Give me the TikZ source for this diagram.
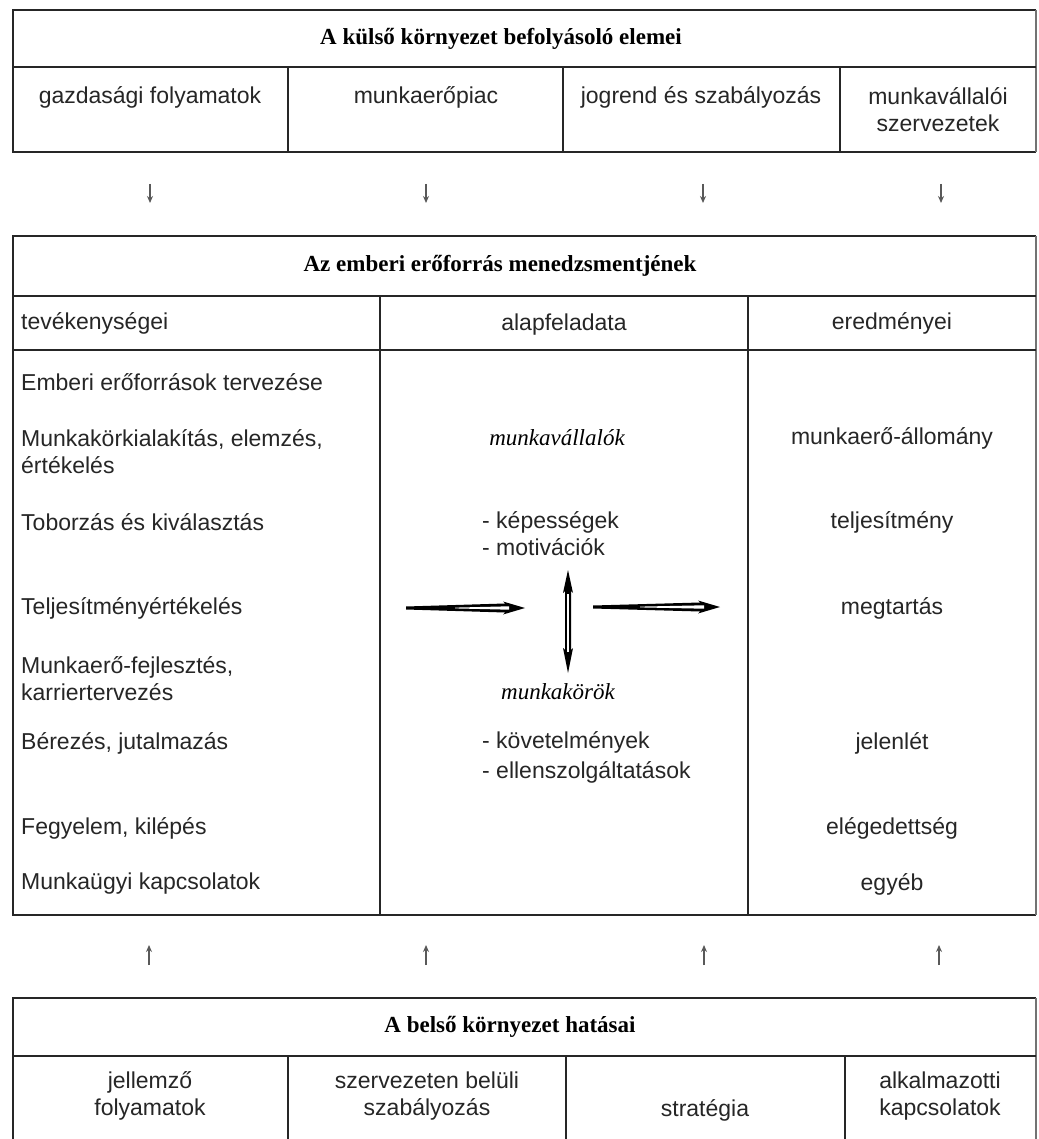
\documentclass[tikz,border=0pt]{standalone}
\usepackage{fontspec}
\setmainfont{Liberation Serif}
\setsansfont{Liberation Sans}
\usetikzlibrary{arrows.meta}
\begin{document}
\begin{tikzpicture}[x=1pt,y=-1pt,
  outer/.style={line width=2.6pt, black!85},
  inner/.style={line width=2pt, black!85},
  ttl/.style={font=\fontsize{23}{27}\selectfont\bfseries\rmfamily, anchor=center, inner sep=0pt},
  txt/.style={font=\fontsize{23}{27}\selectfont\sffamily, text=black!85, align=center, anchor=center, inner sep=0pt},
  ltxt/.style={txt, align=left, anchor=west},
  itx/.style={font=\fontsize{23}{27}\selectfont\itshape\rmfamily, anchor=center, inner sep=0pt},
  smallarr/.style={-{Stealth[length=7pt,width=6pt]}, line width=1.3pt, black!65},
]
\useasboundingbox (0,0) rectangle (1038,1139);
\fill[white] (0,0) rectangle (1038,1139);

% ---------- top table ----------
\draw[outer] (1036,10) -- (13,10) -- (13,152) -- (1036,152);
\draw[line width=1.2pt, black!55] (1036,10) -- (1036,152);
\draw[outer] (13,67) -- (1036,67);
\foreach \x in {288,563,840} \draw[inner] (\x,67) -- (\x,152);
\node[ttl] (t0) at (501,39) {A külső környezet befolyásoló elemei};
\node[txt] (t1) at (150,97) {gazdasági folyamatok};
\node[txt] (t2) at (426,97) {munkaerőpiac};
\node[txt] (t3) at (701,97) {jogrend és szabályozás};
\node[txt] (t4) at (938,110) {munkavállalói\\szervezetek};

% ---------- down arrows ----------
\foreach \x [count=\i] in {150,426,703,941} {
  \coordinate (ds\i) at (\x,184);
  \coordinate (de\i) at (\x,203);
  \draw[smallarr] (ds\i) -- (de\i);
}

% ---------- middle table ----------
\draw[outer] (1036,236) -- (13,236) -- (13,915) -- (1036,915);
\draw[line width=1.2pt, black!55] (1036,236) -- (1036,915);
\draw[outer] (13,296) -- (1036,296);
\draw[outer] (13,350) -- (1036,350);
\foreach \x in {380,748} \draw[inner] (\x,296) -- (\x,915);
\node[ttl] (m0) at (500,266) {Az emberi erőforrás menedzsmentjének};
\node[ltxt] (h1) at (21,323) {tevékenységei};
\node[txt] (h2) at (564,325) {alapfeladata};
\node[txt] (h3) at (892,323) {eredményei};

\node[ltxt] (l1) at (21,382) {Emberi erőforrások tervezése};
\node[ltxt, anchor=north west] (l2) at (21,429) {Munkakörkialakítás, elemzés,\\értékelés};
\node[ltxt] (l3) at (21,522) {Toborzás és kiválasztás};
\node[ltxt] (l4) at (21,608) {Teljesítményértékelés};
\node[ltxt, anchor=north west] (l5) at (21,656) {Munkaerő-fejlesztés,\\karriertervezés};
\node[ltxt] (l6) at (21,743) {Bérezés, jutalmazás};
\node[ltxt] (l7) at (21,828) {Fegyelem, kilépés};
\node[ltxt] (l8) at (21,884) {Munkaügyi kapcsolatok};

\node[itx] (c1) at (557,438) {munkavállalók};
\node[ltxt] (c2) at (482,522) {- képességek};
\node[ltxt] (c3) at (482,547) {- motivációk};
\node[itx] (c4) at (558,692) {munkakörök};
\node[ltxt] (c5) at (482,742) {- követelmények};
\node[ltxt] (c6) at (482,772) {- ellenszolgáltatások};

\node[txt] (r1) at (892,438) {munkaerő-állomány};
\node[txt] (r2) at (892,522) {teljesítmény};
\node[txt] (r3) at (892,608) {megtartás};
\node[txt] (r4) at (892,743) {jelenlét};
\node[txt] (r5) at (892,828) {elégedettség};
\node[txt] (r6) at (892,884) {egyéb};

% center arrows
\fill[black] (406,606.5) -- (505,603.5) -- (503,601.5) -- (525,608) -- (503,614.5) -- (505,612.5) -- (406,609.5) -- cycle;
\fill[white] (455,607.6) -- (509,606.3) -- (509,609.7) -- (455,608.4) -- cycle;
\fill[black] (593,605.5) -- (700,602.5) -- (698,600.5) -- (720,607) -- (698,613.5) -- (700,611.5) -- (593,608.5) -- cycle;
\fill[white] (640,606.6) -- (704,605.3) -- (704,608.7) -- (640,607.4) -- cycle;
\fill[black] (568,570) -- (573,593) -- (571,591) -- (571,650) -- (573,648) -- (568,673) -- (563,648) -- (565,650) -- (565,591) -- (563,593) -- cycle;
\fill[white] (567.2,594) -- (568.8,594) -- (568.8,652) -- (567.2,652) -- cycle;

% ---------- up arrows ----------
\foreach \x [count=\i] in {149,426,704,939} {
  \coordinate (us\i) at (\x,965);
  \coordinate (ue\i) at (\x,945);
  \draw[smallarr] (us\i) -- (ue\i);
}

% ---------- bottom table ----------
\draw[outer] (13,1139) -- (13,998) -- (1036,998);
\draw[line width=1.2pt, black!55] (1036,998) -- (1036,1139);
\draw[outer] (13,1056) -- (1036,1056);
\foreach \x in {288,566,845} \draw[inner] (\x,1056) -- (\x,1139);
\node[ttl] (b0) at (510,1027) {A belső környezet hatásai};
\node[txt] (b1) at (150,1096) {jellemző\\folyamatok};
\node[txt] (b2) at (427,1096) {szervezeten belüli\\szabályozás};
\node[txt] (b3) at (705,1110) {stratégia};
\node[txt] (b4) at (940,1096) {alkalmazotti\\kapcsolatok};
\end{tikzpicture}
\end{document}
